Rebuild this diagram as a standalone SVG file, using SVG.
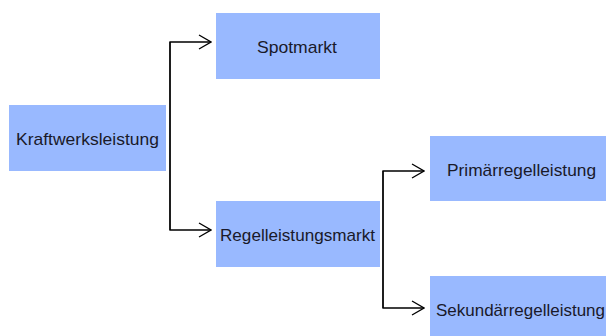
<svg xmlns="http://www.w3.org/2000/svg" width="607" height="336" viewBox="0 0 607 336">
<style>
.box{fill:#99b9ff;}
.lbl{font-family:"Liberation Sans",Arial,sans-serif;font-size:17px;fill:#1a1a2a;text-anchor:middle;}
.con{fill:none;stroke:#000;stroke-width:1.3;}
</style>
<defs>
<marker id="arr" viewBox="0 0 14 16" refX="13" refY="8" markerWidth="14" markerHeight="16" markerUnits="userSpaceOnUse" orient="auto">
<path d="M1,1 L13,8 L1,15" fill="none" stroke="#000" stroke-width="1.3"/>
</marker>
</defs>
<rect width="607" height="336" fill="#fff"/>
<g id="connectors">
<path class="con" d="M170,230 V42 H211" marker-end="url(#arr)"/>
<path class="con" d="M170,42 V230 H211" marker-end="url(#arr)"/>
<path class="con" d="M383,308 V171 H424" marker-end="url(#arr)"/>
<path class="con" d="M383,171 V308 H424" marker-end="url(#arr)"/>
</g>
<g id="kraftwerksleistung">
<rect class="box" x="9" y="105" width="157" height="66"/>
<text class="lbl" x="87.5" y="145" textLength="143" lengthAdjust="spacingAndGlyphs">Kraftwerksleistung</text>
</g>
<g id="spotmarkt">
<rect class="box" x="216" y="13" width="164" height="66"/>
<text class="lbl" x="297" y="52.5" textLength="80" lengthAdjust="spacingAndGlyphs">Spotmarkt</text>
</g>
<g id="regelleistungsmarkt">
<rect class="box" x="216" y="201" width="164" height="66"/>
<text class="lbl" x="297.5" y="240.5" textLength="155" lengthAdjust="spacingAndGlyphs">Regelleistungsmarkt</text>
</g>
<g id="primaerregelleistung">
<rect class="box" x="430" y="136" width="176" height="65"/>
<text class="lbl" x="521.5" y="175.5" textLength="149" lengthAdjust="spacingAndGlyphs">Primärregelleistung</text>
</g>
<g id="sekundaerregelleistung">
<rect class="box" x="430" y="276" width="176" height="66"/>
<text class="lbl" x="520.5" y="315.5" textLength="169" lengthAdjust="spacingAndGlyphs">Sekundärregelleistung</text>
</g>
</svg>
